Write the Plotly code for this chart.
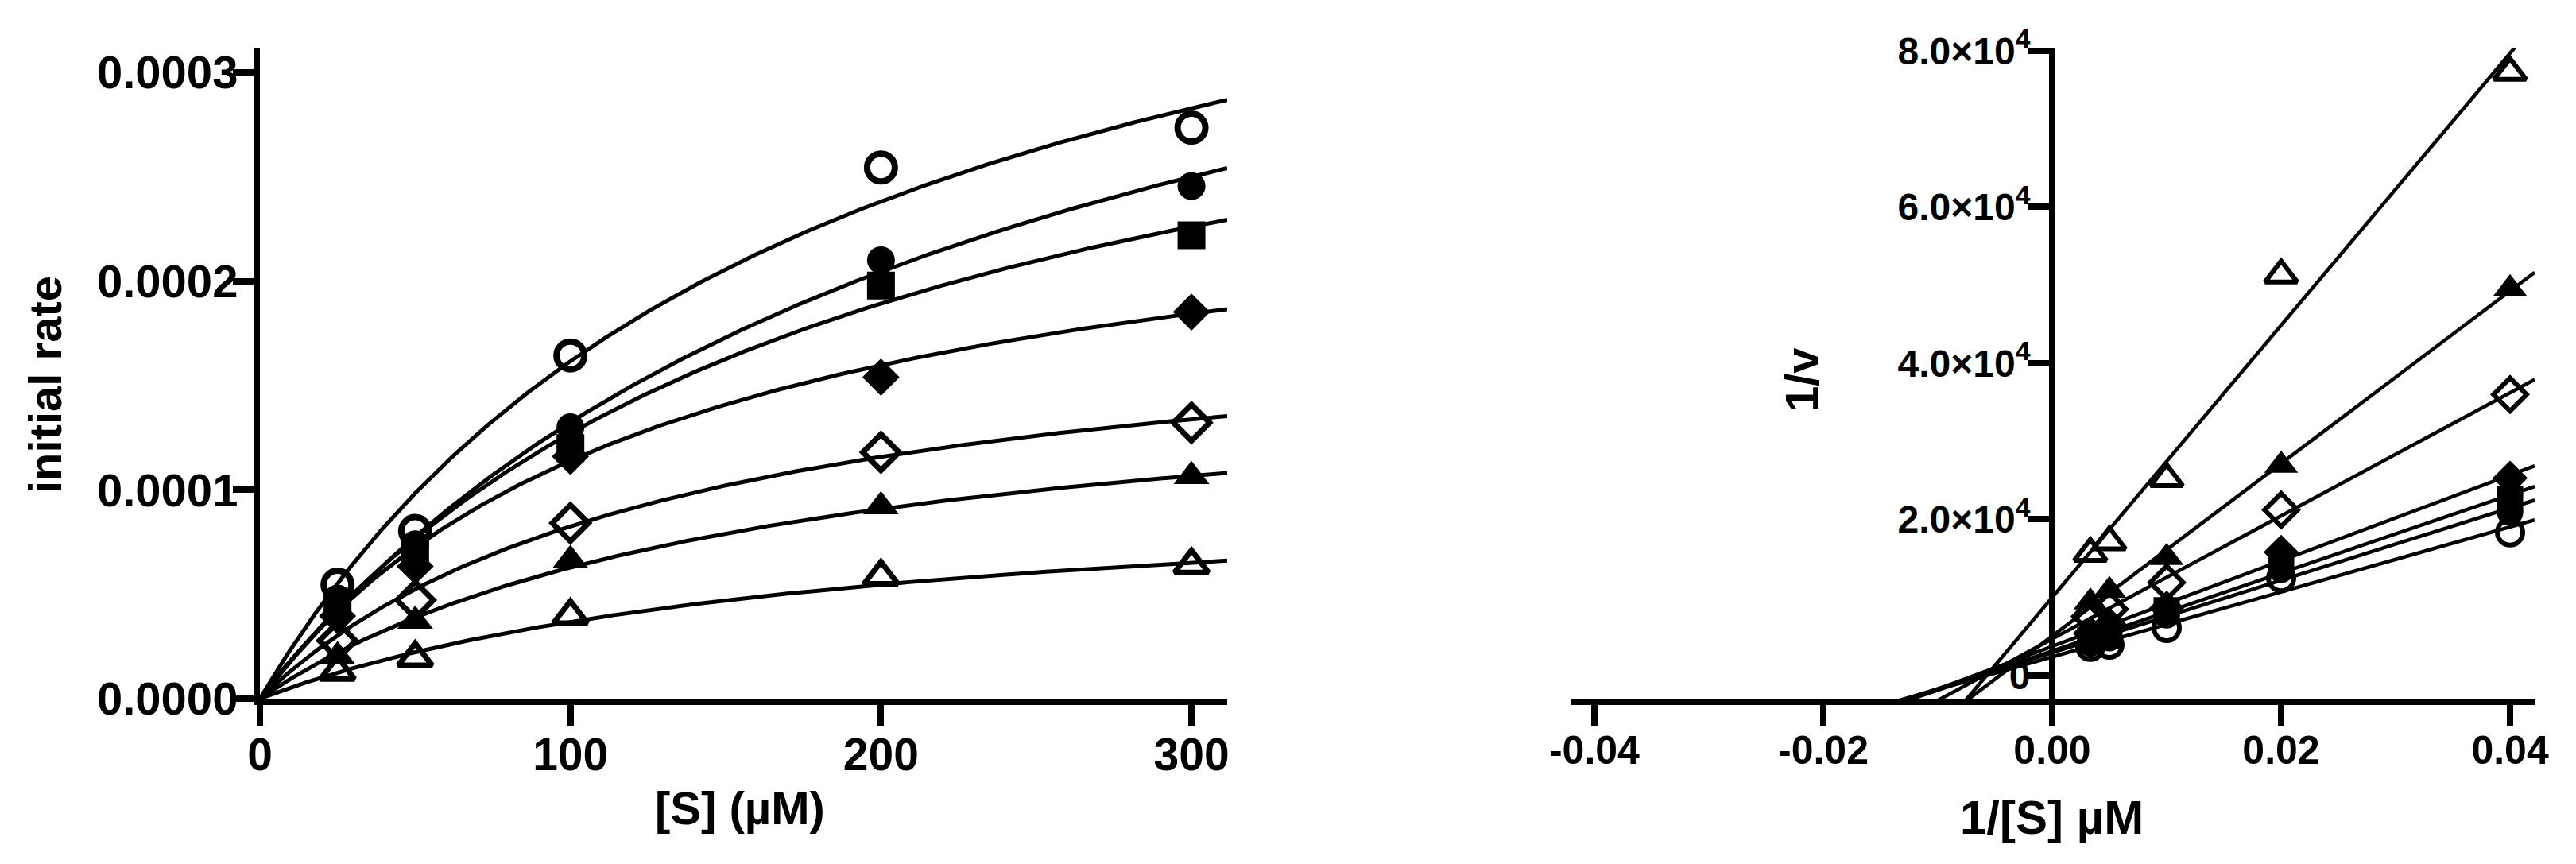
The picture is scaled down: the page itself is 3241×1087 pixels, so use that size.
import numpy as np
import plotly.graph_objects as go

W, H = 3241, 1087

# ---------------- data ----------------
S_uM = [25, 50, 100, 200, 300]

v_open_circle = [0.546e-4, 0.803e-4, 1.644e-4, 2.544e-4, 2.735e-4]
v_filled_circle = [0.480e-4, 0.740e-4, 1.300e-4, 2.100e-4, 2.455e-4]
v_filled_square = [0.443e-4, 0.700e-4, 1.200e-4, 1.979e-4, 2.220e-4]
v_filled_diamond = [0.396e-4, 0.634e-4, 1.160e-4, 1.540e-4, 1.852e-4]
v_open_diamond = [0.278e-4, 0.472e-4, 0.841e-4, 1.180e-4, 1.322e-4]
v_filled_triangle = [0.202e-4, 0.372e-4, 0.663e-4, 0.920e-4, 1.065e-4]
v_open_triangle = [0.1295e-4, 0.195e-4, 0.397e-4, 0.585e-4, 0.640e-4]

# Michaelis-Menten fit parameters
vmax_fit = [4.525e-4, 4.50e-4, 3.70e-4, 2.668e-4, 1.94e-4, 1.64e-4, 1.06e-4]
km_fit = [180, 240, 191, 134, 135, 161, 188]

left_x_ticks = [0, 100, 200, 300]
left_y_ticks = [0, 0.0001, 0.0002, 0.0003]
left_y_ticktext = ["0.0000", "0.0001", "0.0002", "0.0003"]
right_x_ticks = [-0.04, -0.02, 0.0, 0.02, 0.04]
right_x_ticktext = ["-0.04", "-0.02", "0.00", "0.02", "0.04"]
right_y_ticks = [0, 20000, 40000, 60000, 80000]
right_y_ticktext = ["0", "2.0×10<sup>4</sup>", "4.0×10<sup>4</sup>",
                    "6.0×10<sup>4</sup>", "8.0×10<sup>4</sup>"]

# symbol, left size, left stroke, right size, right stroke
series = [
    (v_open_circle, "circle-open", 35, 8, 32, 6),
    (v_filled_circle, "circle", 35, 0, 33, 0),
    (v_filled_square, "square", 35, 0, 33, 0),
    (v_filled_diamond, "diamond", 36, 0, 34, 0),
    (v_open_diamond, "diamond-open", 35, 7, 32, 6),
    (v_filled_triangle, "triangle-up", 39, 0, 37, 0),
    (v_open_triangle, "triangle-up-open", 37, 7, 35, 6),
]

FONT = "Liberation Sans, Arial, sans-serif"
LEFT_X_RANGE = [0, 311.5]
LEFT_Y_RANGE = [0, 0.0003118]
RIGHT_X_RANGE = [-0.04208, 0.04215]
RIGHT_Y_RANGE = [-2980, 80380]

fig = go.Figure()

S = np.array(S_uM, dtype=float)
s_fine = np.linspace(0, LEFT_X_RANGE[1], 300)
inv_s = 1.0 / S
x_line = np.array(RIGHT_X_RANGE)

for i, (v, sym, size_l, lw_l, size_r, lw_r) in enumerate(series):
    v = np.array(v)
    # fitted MM curve
    curve = vmax_fit[i] * s_fine / (km_fit[i] + s_fine)
    fig.add_trace(go.Scatter(x=s_fine, y=curve, mode="lines",
                             line=dict(color="black", width=5),
                             xaxis="x", yaxis="y", showlegend=False,
                             hoverinfo="skip"))
    # Lineweaver-Burk linear regression
    slope, icpt = np.polyfit(inv_s, 1.0 / v, 1)
    fig.add_trace(go.Scatter(x=x_line, y=slope * x_line + icpt, mode="lines",
                             line=dict(color="black", width=4.5),
                             xaxis="x2", yaxis="y2", showlegend=False,
                             hoverinfo="skip"))

for i, (v, sym, size_l, lw_l, size_r, lw_r) in enumerate(series):
    v = np.array(v)
    fig.add_trace(go.Scatter(x=S, y=v, mode="markers",
                             marker=dict(symbol=sym, size=size_l, color="black",
                                         line=dict(color="black", width=lw_l)),
                             xaxis="x", yaxis="y", showlegend=False,
                             cliponaxis=False))
    fig.add_trace(go.Scatter(x=inv_s, y=1.0 / v, mode="markers",
                             marker=dict(symbol=sym, size=size_r, color="black",
                                         line=dict(color="black", width=lw_r)),
                             xaxis="x2", yaxis="y2", showlegend=False,
                             cliponaxis=False))


def px_x(p):
    return p / W


def px_y(p):
    return 1 - p / H


axis_common = dict(showgrid=False, zeroline=False, showline=True,
                   linecolor="black", linewidth=8, ticks="outside",
                   tickcolor="black", tickwidth=8, ticklen=26,
                   automargin=False)

fig.update_layout(
    width=W, height=H,
    margin=dict(l=0, r=0, t=0, b=0),
    paper_bgcolor="white", plot_bgcolor="white",
    font=dict(family=FONT, color="black"),
    xaxis=dict(domain=[px_x(319), px_x(1536)], range=LEFT_X_RANGE,
               anchor="y", tickvals=left_x_ticks,
               ticktext=[str(t) for t in left_x_ticks],
               tickfont=dict(family=FONT, size=57, weight="bold"),
               ticklabelstandoff=-12,
               **axis_common),
    yaxis=dict(domain=[px_y(871), px_y(52)], range=LEFT_Y_RANGE,
               anchor="x", tickvals=left_y_ticks, ticktext=left_y_ticktext,
               tickfont=dict(family=FONT, size=58, weight="bold"),
               ticklabelstandoff=-18,
               **axis_common),
    xaxis2=dict(domain=[px_x(1968), px_x(3181)], range=RIGHT_X_RANGE,
                anchor="y2", tickvals=right_x_ticks, ticktext=right_x_ticktext,
                tickfont=dict(family=FONT, size=50, weight="bold"),
                ticklabelstandoff=-12,
                **axis_common),
    yaxis2=dict(domain=[px_y(871), px_y(52)], range=RIGHT_Y_RANGE,
                anchor="free", position=px_x(2574), side="left",
                tickvals=right_y_ticks, ticktext=right_y_ticktext,
                tickfont=dict(family=FONT, size=48, weight="bold"),
                ticklabelstandoff=-12,
                **axis_common),
)

title_font = dict(family=FONT, size=58, color="black", weight="bold")
annos = [
    dict(text="initial rate", x=px_x(48), y=px_y(476), textangle=-90),
    dict(text="[S] (µM)", x=px_x(923), y=px_y(1008), textangle=0),
    dict(text="1/v", x=px_x(2259), y=px_y(470), textangle=-90),
    dict(text="1/[S] µM", x=px_x(2573), y=px_y(1020), textangle=0,
         font=dict(family=FONT, size=60, color="black", weight="bold")),
]
for a in annos:
    fig.add_annotation(xref="paper", yref="paper", showarrow=False,
                       xanchor="center", yanchor="middle",
                       font=a.pop("font", title_font), **a)

fig.write_html("out.html")
